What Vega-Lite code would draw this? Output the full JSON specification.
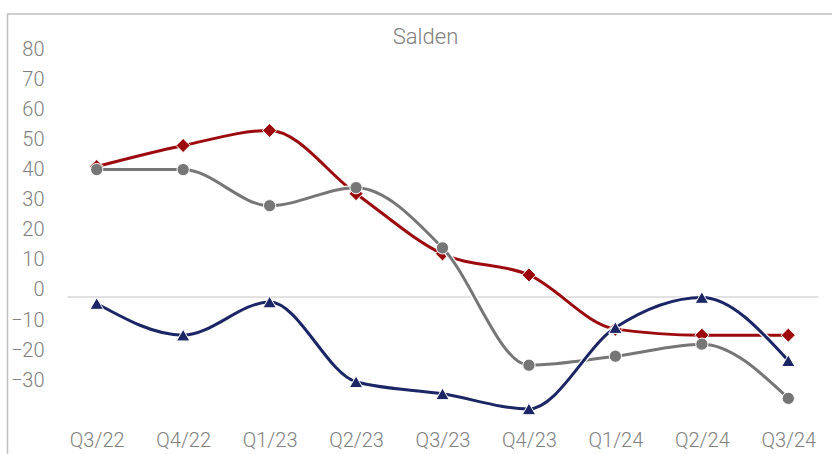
{
  "$schema": "https://vega.github.io/schema/vega-lite/v6.json",
  "width": 825,
  "height": 440,
  "autosize": "none",
  "padding": {"left": 7, "top": 14, "right": 0, "bottom": 0},
  "background": "white",
  "config": {
    "view": {"stroke": null},
    "font": "Roboto"
  },
  "data": {
    "values": [
      {"q": "Q3/22", "s": "Reihe1", "v": 41},
      {"q": "Q4/22", "s": "Reihe1", "v": 48},
      {"q": "Q1/23", "s": "Reihe1", "v": 53},
      {"q": "Q2/23", "s": "Reihe1", "v": 32},
      {"q": "Q3/23", "s": "Reihe1", "v": 12},
      {"q": "Q4/23", "s": "Reihe1", "v": 5},
      {"q": "Q1/24", "s": "Reihe1", "v": -13},
      {"q": "Q2/24", "s": "Reihe1", "v": -15},
      {"q": "Q3/24", "s": "Reihe1", "v": -15},
      {"q": "Q3/22", "s": "Reihe2", "v": 40},
      {"q": "Q4/22", "s": "Reihe2", "v": 40},
      {"q": "Q1/23", "s": "Reihe2", "v": 28},
      {"q": "Q2/23", "s": "Reihe2", "v": 34},
      {"q": "Q3/23", "s": "Reihe2", "v": 14},
      {"q": "Q4/23", "s": "Reihe2", "v": -25},
      {"q": "Q1/24", "s": "Reihe2", "v": -22},
      {"q": "Q2/24", "s": "Reihe2", "v": -18},
      {"q": "Q3/24", "s": "Reihe2", "v": -36},
      {"q": "Q3/22", "s": "Reihe3", "v": -4.5},
      {"q": "Q4/22", "s": "Reihe3", "v": -15},
      {"q": "Q1/23", "s": "Reihe3", "v": -4},
      {"q": "Q2/23", "s": "Reihe3", "v": -30.5},
      {"q": "Q3/23", "s": "Reihe3", "v": -34.5},
      {"q": "Q4/23", "s": "Reihe3", "v": -39.5},
      {"q": "Q1/24", "s": "Reihe3", "v": -12.5},
      {"q": "Q2/24", "s": "Reihe3", "v": -2.5},
      {"q": "Q3/24", "s": "Reihe3", "v": -23.5}
    ]
  },
  "layer": [
    {
      "data": {"values": [{"z": 0}]},
      "mark": {"type": "rule", "color": "#bfbfbf", "strokeWidth": 1.5},
      "encoding": {
        "y": {
          "datum": 91.69,
          "type": "quantitative",
          "scale": {"domain": [-54.49, 91.69], "nice": false, "zero": false},
          "axis": {
            "title": "Salden",
            "titleX": 418,
            "titleY": 22,
            "titleAngle": 0,
            "titleAlign": "center",
            "titleBaseline": "middle",
            "titleFont": "Roboto",
            "titleFontSize": 22,
            "titleFontWeight": 300,
            "titleColor": "#7f7f7f",
            "values": [-30, -20, -10, 0, 10, 20, 30, 40, 50, 60, 70, 80],
            "domain": true,
            "domainColor": "#bfbfbf",
            "domainWidth": 1.5,
            "ticks": false,
            "tickSize": 0,
            "grid": false,
            "labelPadding": -37,
            "labelFont": "Roboto",
            "labelFontSize": 20,
            "labelFontWeight": 300,
            "labelColor": "#808080"
          }
        }
      }
    },
    {
      "encoding": {
        "x": {
          "field": "q",
          "type": "ordinal",
          "sort": null,
          "scale": {
            "type": "point",
            "domain": ["Q3/22", "Q4/22", "Q1/23", "Q2/23", "Q3/23", "Q4/23", "Q1/24", "Q2/24", "Q3/24"],
            "range": [60, 811],
            "padding": 0.3436
          },
          "axis": {
            "orient": "bottom",
            "offset": -157.4,
            "title": null,
            "domain": true,
            "domainColor": "#d9d9d9",
            "domainWidth": 1.5,
            "ticks": false,
            "tickSize": 0,
            "grid": false,
            "labelAngle": 0,
            "labelBaseline": "middle",
            "labelPadding": 143.4,
            "labelFont": "Roboto",
            "labelFontSize": 20,
            "labelFontWeight": 300,
            "labelColor": "#808080"
          }
        },
        "y": {
          "field": "v",
          "type": "quantitative",
          "scale": {"domain": [-54.49, 91.69], "nice": false, "zero": false},
          "axis": {
            "title": "Salden",
            "titleX": 418,
            "titleY": 22,
            "titleAngle": 0,
            "titleAlign": "center",
            "titleBaseline": "middle",
            "titleFont": "Roboto",
            "titleFontSize": 22,
            "titleFontWeight": 300,
            "titleColor": "#7f7f7f",
            "values": [-30, -20, -10, 0, 10, 20, 30, 40, 50, 60, 70, 80],
            "domain": true,
            "domainColor": "#bfbfbf",
            "domainWidth": 1.5,
            "ticks": false,
            "tickSize": 0,
            "grid": false,
            "labelPadding": -37,
            "labelFont": "Roboto",
            "labelFontSize": 20,
            "labelFontWeight": 300,
            "labelColor": "#808080"
          }
        }
      },
      "layer": [
        {
          "transform": [{"filter": "datum.s === 'Reihe1'"}],
          "mark": {"type": "line", "interpolate": "monotone", "color": "white", "strokeWidth": 5.5}
        },
        {
          "transform": [{"filter": "datum.s === 'Reihe1'"}],
          "mark": {"type": "line", "interpolate": "monotone", "color": "#9c0a0e", "strokeWidth": 3}
        },
        {
          "transform": [{"filter": "datum.s === 'Reihe1'"}],
          "mark": {"type": "point", "shape": "diamond", "filled": true, "size": 200, "fill": "#9c0a0e", "stroke": "white", "strokeWidth": 1, "opacity": 1}
        },
        {
          "transform": [{"filter": "datum.s === 'Reihe2'"}],
          "mark": {"type": "line", "interpolate": "monotone", "color": "white", "strokeWidth": 5.5}
        },
        {
          "transform": [{"filter": "datum.s === 'Reihe2'"}],
          "mark": {"type": "line", "interpolate": "monotone", "color": "#767676", "strokeWidth": 3}
        },
        {
          "transform": [{"filter": "datum.s === 'Reihe2'"}],
          "mark": {"type": "point", "shape": "circle", "filled": true, "size": 150, "fill": "#767676", "stroke": "white", "strokeWidth": 1, "opacity": 1}
        },
        {
          "transform": [{"filter": "datum.s === 'Reihe3'"}],
          "mark": {"type": "line", "interpolate": "monotone", "color": "white", "strokeWidth": 5.5}
        },
        {
          "transform": [{"filter": "datum.s === 'Reihe3'"}],
          "mark": {"type": "line", "interpolate": "monotone", "color": "#1c2566", "strokeWidth": 3}
        },
        {
          "transform": [{"filter": "datum.s === 'Reihe3'"}],
          "mark": {"type": "point", "shape": "triangle-up", "filled": true, "size": 180, "fill": "#1c2566", "stroke": "white", "strokeWidth": 1, "opacity": 1}
        }
      ]
    }
  ]
}
